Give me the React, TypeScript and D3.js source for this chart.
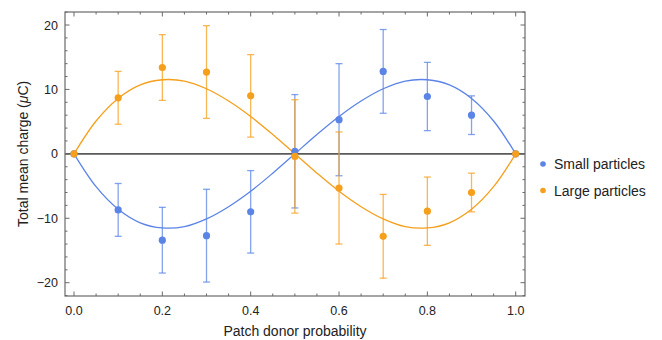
import React from 'react';
import * as d3 from 'd3';

// measured points (mean ± error)
const probs = [0, 0.1, 0.2, 0.3, 0.4, 0.5, 0.6, 0.7, 0.8, 0.9, 1.0];
const smallMean = [0, -8.7, -13.4, -12.7, -9.0, 0.4, 5.3, 12.8, 8.9, 6.0, 0];
const largeMean = [0, 8.7, 13.4, 12.7, 9.0, -0.4, -5.3, -12.8, -8.9, -6.0, 0];
const errors = [0, 4.1, 5.1, 7.2, 6.4, 8.8, 8.7, 6.5, 5.3, 3.0, 0];

// fitted curves
const fitX = [0, 0.05, 0.1, 0.15, 0.2, 0.25, 0.3, 0.35, 0.4, 0.45, 0.5, 0.55, 0.6, 0.65, 0.7, 0.75, 0.8, 0.85, 0.9, 0.95, 1.0];
const largeFit = [0, 5.1, 8.6, 10.7, 11.5, 11.3, 10.1, 8.2, 5.8, 3.0, 0, -3.0, -5.8, -8.2, -10.1, -11.3, -11.5, -10.7, -8.6, -5.1, 0];
const smallFit = [0, -5.1, -8.6, -10.7, -11.5, -11.3, -10.1, -8.2, -5.8, -3.0, 0, 3.0, 5.8, 8.2, 10.1, 11.3, 11.5, 10.7, 8.6, 5.1, 0];

const xTicks = [0, 0.2, 0.4, 0.6, 0.8, 1.0];
const yTicks = [-20, -10, 0, 10, 20];
const seriesNames = ['Small particles', 'Large particles'];

const BLUE = '#5b84e6';
const ORANGE = '#f59f1c';
const FONT = '"Liberation Sans", Arial, Helvetica, sans-serif';

export default function App() {
  const W = 662, H = 340;
  const frame = { l: 65, r: 525, t: 12, b: 296 };
  const x = d3.scaleLinear().domain([0, 1]).range([74, 515.7]);
  const y = d3.scaleLinear().domain([20, -20]).range([25, 282.7]);

  const minorX = d3.range(0, 1.0001, 0.05);
  const minorY = d3.range(-22, 22.001, 2);

  const line = d3.line<[number, number]>()
    .x(d => x(d[0])).y(d => y(d[1]))
    .curve(d3.curveCatmullRom.alpha(0.5));

  const series = [
    { name: seriesNames[0], color: BLUE, mean: smallMean, fit: smallFit },
    { name: seriesNames[1], color: ORANGE, mean: largeMean, fit: largeFit },
  ];

  const isMajorX = (v: number) => xTicks.some(t => Math.abs(t - v) < 1e-6);
  const isMajorY = (v: number) => yTicks.some(t => Math.abs(t - v) < 1e-6);
  const fmt = (v: number) => (v < 0 ? '\u2212' + Math.abs(v) : String(v));

  return (
    <svg width={W} height={H} style={{ position: 'absolute', left: 0, top: 0 }} fontFamily={FONT}>
      <rect x={0} y={0} width={W} height={H} fill="#fff" />

      {/* zero line */}
      <line x1={frame.l} x2={frame.r} y1={y(0)} y2={y(0)} stroke="#5a5a5a" strokeWidth={1.6} />

      {/* error bars */}
      {series.map(s => (
        <g key={s.name + '-err'} stroke={s.color} strokeOpacity={0.75} strokeWidth={1.3}>
          {probs.map((p, i) => errors[i] > 0 && (
            <g key={i}>
              <line x1={x(p)} x2={x(p)} y1={y(s.mean[i] + errors[i])} y2={y(s.mean[i] - errors[i])} />
              <line x1={x(p) - 3.5} x2={x(p) + 3.5} y1={y(s.mean[i] + errors[i])} y2={y(s.mean[i] + errors[i])} />
              <line x1={x(p) - 3.5} x2={x(p) + 3.5} y1={y(s.mean[i] - errors[i])} y2={y(s.mean[i] - errors[i])} />
            </g>
          ))}
        </g>
      ))}

      {/* fit curves */}
      {series.map(s => (
        <path key={s.name + '-fit'} d={line(fitX.map((v, i) => [v, s.fit[i]]) as [number, number][]) || ''}
          fill="none" stroke={s.color} strokeWidth={1.3} />
      ))}

      {/* points */}
      {series.map(s => (
        <g key={s.name + '-pts'} fill={s.color}>
          {probs.map((p, i) => <circle key={i} cx={x(p)} cy={y(s.mean[i])} r={3.6} />)}
        </g>
      ))}

      {/* frame */}
      <rect x={frame.l} y={frame.t} width={frame.r - frame.l} height={frame.b - frame.t}
        fill="none" stroke="#6a6a6a" strokeWidth={1.2} />

      {/* ticks */}
      <g stroke="#6a6a6a" strokeWidth={1}>
        {minorX.map((v, i) => {
          const len = isMajorX(v) ? 4.5 : 2.5;
          return (
            <g key={i}>
              <line x1={x(v)} x2={x(v)} y1={frame.b} y2={frame.b - len} />
              <line x1={x(v)} x2={x(v)} y1={frame.t} y2={frame.t + len} />
            </g>
          );
        })}
        {minorY.map((v, i) => {
          const len = isMajorY(v) ? 4.5 : 2.5;
          return (
            <g key={i}>
              <line x1={frame.l} x2={frame.l + len} y1={y(v)} y2={y(v)} />
              <line x1={frame.r} x2={frame.r - len} y1={y(v)} y2={y(v)} />
            </g>
          );
        })}
      </g>

      {/* tick labels */}
      <g fontSize={12.5} fill="#222">
        {xTicks.map(v => (
          <text key={v} x={x(v)} y={314.5} textAnchor="middle">{v.toFixed(1)}</text>
        ))}
        {yTicks.map(v => (
          <text key={v} x={58} y={y(v) + 4.5} textAnchor="end">{fmt(v)}</text>
        ))}
      </g>

      {/* axis titles */}
      <text x={295} y={336} textAnchor="middle" fontSize={14} fill="#222">Patch donor probability</text>
      <text transform={`translate(28,${y(0)}) rotate(-90)`} textAnchor="middle" fontSize={14} fill="#222">
        Total mean charge (<tspan fontStyle="italic">μ</tspan>C)
      </text>

      {/* legend */}
      {series.map((s, i) => (
        <g key={s.name + '-leg'} transform={`translate(543,${164 + i * 26.5})`}>
          <circle r={2.8} fill={s.color} />
          <text x={11} y={5} fontSize={14} fill="#222">{s.name}</text>
        </g>
      ))}
    </svg>
  );
}
